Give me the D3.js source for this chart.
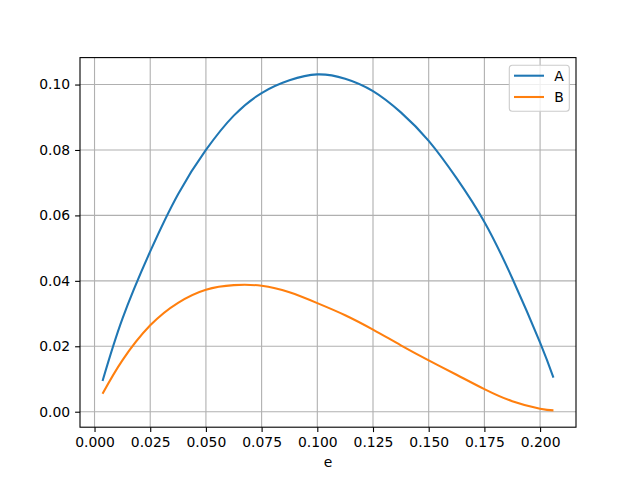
<!DOCTYPE html>
<html>
<head>
<meta charset="utf-8">
<script src="https://cdn.jsdelivr.net/npm/d3@7"></script>
<style>
  body { margin: 0; background: #fff; }
  svg text { font-family: "DejaVu Sans", sans-serif; fill: #000; }
</style>
</head>
<body>
<div id="chart"></div>
<script>
// values
var eValues = [0.0036, 0.0125, 0.025, 0.0375, 0.05, 0.0625, 0.075, 0.0875, 0.1,
               0.1125, 0.125, 0.1375, 0.15, 0.1625, 0.175, 0.1875, 0.2, 0.206];
var seriesA = [0.0094, 0.0284, 0.0490, 0.0665, 0.0800, 0.0905, 0.0974, 0.1013, 0.1031,
               0.1018, 0.0980, 0.0915, 0.0828, 0.0714, 0.0580, 0.0408, 0.0211, 0.0104];
var seriesB = [0.0055, 0.0157, 0.0264, 0.0333, 0.0373, 0.0387, 0.0385, 0.0365, 0.0332,
               0.0295, 0.0251, 0.0203, 0.0157, 0.0113, 0.0069, 0.0032, 0.0009, 0.0004];
var seriesNames = ["A", "B"];
var xTicks = [0, 0.025, 0.05, 0.075, 0.1, 0.125, 0.15, 0.175, 0.2];
var yTicks = [0, 0.02, 0.04, 0.06, 0.08, 0.1];
var colors = ["#1f77b4", "#ff7f0e"];

var fullWidth = 640, fullHeight = 480;
var margin = {top: 57.6, right: 64, bottom: 52.8, left: 80},
    width = fullWidth - margin.left - margin.right,
    height = fullHeight - margin.top - margin.bottom;

var svg = d3.select("#chart").append("svg")
    .attr("width", fullWidth)
    .attr("height", fullHeight);

var g = svg.append("g")
    .attr("transform", "translate(" + margin.left + "," + margin.top + ")");

// matplotlib style 5% margins
var xmin = d3.min(eValues), xmax = d3.max(eValues);
var xpad = (xmax - xmin) * 0.05;
var allY = seriesA.concat(seriesB);
var ymin = d3.min(allY), ymax = d3.max(allY);
var ypad = (ymax - ymin) * 0.05;

var x = d3.scaleLinear().domain([xmin - xpad, xmax + xpad]).range([0, width]);
var y = d3.scaleLinear().domain([ymin - ypad, ymax + ypad]).range([height, 0]);

// grid
g.append("g").selectAll("line").data(xTicks).enter().append("line")
    .attr("x1", function(d) { return x(d); })
    .attr("x2", function(d) { return x(d); })
    .attr("y1", 0).attr("y2", height)
    .attr("stroke", "#b0b0b0").attr("stroke-width", 1.1);
g.append("g").selectAll("line").data(yTicks).enter().append("line")
    .attr("y1", function(d) { return y(d); })
    .attr("y2", function(d) { return y(d); })
    .attr("x1", 0).attr("x2", width)
    .attr("stroke", "#b0b0b0").attr("stroke-width", 1.1);

// lines
var line = d3.line()
    .x(function(d) { return x(d[0]); })
    .y(function(d) { return y(d[1]); })
    .curve(d3.curveNatural);

[seriesA, seriesB].forEach(function(vals, i) {
    g.append("path")
        .datum(eValues.map(function(e, j) { return [e, vals[j]]; }))
        .attr("fill", "none")
        .attr("stroke", colors[i])
        .attr("stroke-width", 2.08)
        .attr("d", line);
});

// axes
var xAxis = d3.axisBottom(x).tickValues(xTicks).tickFormat(d3.format(".3f"))
    .tickSizeInner(4.9).tickSizeOuter(0).tickPadding(4.9);
var yAxis = d3.axisLeft(y).tickValues(yTicks).tickFormat(d3.format(".2f"))
    .tickSizeInner(4.9).tickSizeOuter(0).tickPadding(4.9);

var gx = g.append("g").attr("transform", "translate(0," + height + ")").call(xAxis);
var gy = g.append("g").call(yAxis);
[gx, gy].forEach(function(ax) {
    ax.select(".domain").remove();
    ax.selectAll("line").attr("stroke", "#000").attr("stroke-width", 1.1);
    ax.selectAll("text").attr("font-size", "13.9px").attr("font-family", "DejaVu Sans, sans-serif");
});

// frame
g.append("rect")
    .attr("width", width).attr("height", height)
    .attr("fill", "none").attr("stroke", "#000").attr("stroke-width", 1.1);

// x label
g.append("text")
    .attr("x", width / 2)
    .attr("y", height + 40)
    .attr("text-anchor", "middle")
    .attr("font-size", "13.9px")
    .text("e");

// legend
var legend = g.append("g").attr("transform", "translate(" + (width - 66.7) + ",7.7)");
legend.append("rect")
    .attr("width", 60).attr("height", 46)
    .attr("rx", 3).attr("ry", 3)
    .attr("fill", "#fff").attr("fill-opacity", 0.8)
    .attr("stroke", "#cccccc").attr("stroke-width", 1.1);
seriesNames.forEach(function(name, i) {
    var ly = 10.4 + i * 21.3;
    legend.append("line")
        .attr("x1", 4.7).attr("x2", 34.7)
        .attr("y1", ly).attr("y2", ly)
        .attr("stroke", colors[i]).attr("stroke-width", 2.08);
    legend.append("text")
        .attr("x", 45)
        .attr("y", ly + 4.9)
        .attr("font-size", "13.9px")
        .text(name);
});
</script>
</body>
</html>
